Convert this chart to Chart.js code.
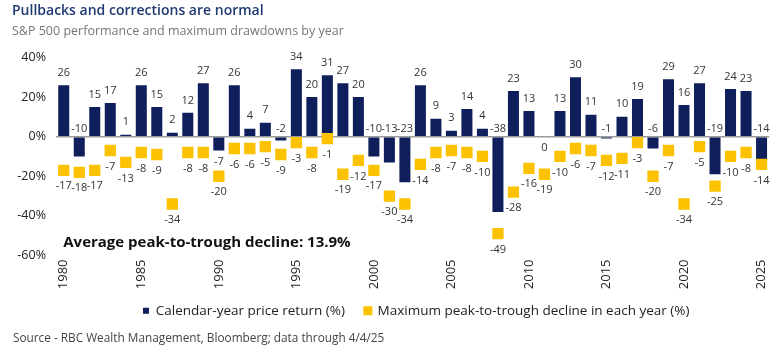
<!DOCTYPE html>
<html>
<head>
<meta charset="utf-8">
<script src="https://cdn.jsdelivr.net/npm/chart.js@4.4.1/dist/chart.umd.min.js"></script>
<style>
  html, body { margin: 0; padding: 0; background: #ffffff; }
  #wrap { width: 783px; height: 354px; position: relative; }
</style>
</head>
<body>
<div id="wrap"><canvas id="c" width="783" height="354"></canvas></div>
<script>
const years = ['1980','1981','1982','1983','1984','1985','1986','1987','1988','1989',
  '1990','1991','1992','1993','1994','1995','1996','1997','1998','1999',
  '2000','2001','2002','2003','2004','2005','2006','2007','2008','2009',
  '2010','2011','2012','2013','2014','2015','2016','2017','2018','2019',
  '2020','2021','2022','2023','2024','2025'];
const priceReturn = [26,-10,15,17,1,26,15,2,12,27,
  -7,26,4,7,-2,34,20,31,27,20,
  -10,-13,-23,26,9,3,14,4,-38,23,
  13,0,13,30,11,-1,10,19,-6,29,
  16,27,-19,24,23,-14];
const maxDrawdown = [-17,-18,-17,-7,-13,-8,-9,-34,-8,-8,
  -20,-6,-6,-5,-9,-3,-8,-1,-19,-12,
  -17,-30,-34,-14,-8,-7,-8,-10,-49,-28,
  -16,-19,-10,-6,-7,-12,-11,-3,-20,-7,
  -34,-5,-25,-10,-8,-14];
const yTicks = [-60,-40,-20,0,20,40];
const avgText = 'Average peak-to-trough decline: 13.9%';
const titleText = 'Pullbacks and corrections are normal';
const subtitleText = 'S&P 500 performance and maximum drawdowns by year';
const sourceText = 'Source - RBC Wealth Management, Bloomberg; data through 4/4/25';
const labelsBelowBar = ['1990','2011'];

const NAVY = '#0e1f5b';
const GOLD = '#fcc200';
const FONT = "'Open Sans', 'DejaVu Sans', sans-serif";

const labelPlugin = {
  id: 'labelPlugin',
  afterDatasetsDraw(chart) {
    const ctx = chart.ctx;
    const y = chart.scales.y;
    const zero = y.getPixelForValue(0);
    ctx.save();
    ctx.font = '11px ' + FONT;
    ctx.fillStyle = '#333333';
    ctx.textAlign = 'center';
    ctx.textBaseline = 'middle';
    const barMeta = chart.getDatasetMeta(0);
    barMeta.data.forEach((el, i) => {
      const v = priceReturn[i];
      let ty;
      if (labelsBelowBar.includes(years[i])) ty = el.y + 11.5;
      else if (v > 0) ty = el.y - 12.5;
      else ty = zero - 7.5;
      ctx.fillText(String(v), el.x, ty);
    });
    const ptMeta = chart.getDatasetMeta(1);
    ptMeta.data.forEach((el, i) => {
      ctx.fillText(String(maxDrawdown[i]), el.x, el.y + 16);
    });
    // average annotation
    ctx.font = 'bold 15px ' + FONT;
    ctx.fillStyle = '#111111';
    ctx.textAlign = 'left';
    ctx.fillText(avgText, chart.scales.x.getPixelForValue(0) - 0.5, y.getPixelForValue(-53.5));
    // source
    ctx.font = '11.8px ' + FONT;
    ctx.fillStyle = '#444444';
    ctx.fillText(sourceText, 13, 339);
    ctx.restore();
  },
  afterLayout(chart) {
    if (chart.legend) {
      chart.legend.left = 123;
      chart.legend.top = chart.legend.top - 7.5;
    }
  }
};

new Chart(document.getElementById('c'), {
  data: {
    labels: years,
    datasets: [
      {
        type: 'bar',
        label: 'Calendar-year price return (%)',
        data: priceReturn,
        backgroundColor: NAVY,
        borderWidth: 0,
        barPercentage: 0.71,
        categoryPercentage: 1.0,
        order: 1
      },
      {
        type: 'line',
        label: 'Maximum peak-to-trough decline in each year (%)',
        data: maxDrawdown,
        showLine: false,
        pointStyle: 'rect',
        pointRadius: 8,
        pointHoverRadius: 8,
        pointBorderWidth: 0,
        backgroundColor: GOLD,
        borderColor: GOLD,
        order: 0
      }
    ]
  },
  options: {
    responsive: false,
    animation: false,
    events: [],
    layout: { padding: { left: 12, right: 13.7, top: 0, bottom: 19 } },
    scales: {
      x: {
        type: 'category',
        offset: true,
        grid: { display: false, drawTicks: false },
        border: { display: false },
        ticks: {
          autoSkip: false,
          maxRotation: 90,
          minRotation: 90,
          padding: 4,
          color: '#222222',
          font: { family: FONT, size: 13 },
          callback: function(v, i) { const yr = years[i]; return (Number(yr) % 5 === 0) ? yr : ''; }
        },
        afterFit(scale) { scale.height = 36; }
      },
      y: {
        min: -60,
        max: 40,
        afterBuildTicks(scale) { scale.ticks = yTicks.map(v => ({ value: v })); },
        border: { display: false },
        grid: {
          drawTicks: false,
          color: (c) => (c.tick && c.tick.value === 0) ? '#9b9b9b' : 'rgba(0,0,0,0)',
          lineWidth: (c) => (c.tick && c.tick.value === 0) ? 1.5 : 0
        },
        ticks: {
          padding: 10,
          color: '#222222',
          font: { family: FONT, size: 12.5 },
          callback: (v) => v + '%'
        },
        afterFit(scale) { scale.width = 44; }
      }
    },
    plugins: {
      title: {
        display: true,
        text: titleText,
        align: 'start',
        color: '#1f3a72',
        font: { family: FONT, size: 14, weight: '600' },
        padding: { top: 3, bottom: 0 }
      },
      subtitle: {
        display: true,
        text: subtitleText,
        align: 'start',
        color: '#777777',
        font: { family: FONT, size: 12.5 },
        padding: { top: 4.4, bottom: 18.2 }
      },
      legend: {
        display: true,
        position: 'bottom',
        align: 'start',
        labels: {
          boxWidth: 6,
          boxHeight: 6,
          padding: 20,
          color: '#222222',
          font: { family: FONT, size: 13.5 },
          sort: (a, b) => a.datasetIndex - b.datasetIndex
        }
      },
      tooltip: { enabled: false }
    }
  },
  plugins: [labelPlugin]
});
</script>
</body>
</html>
